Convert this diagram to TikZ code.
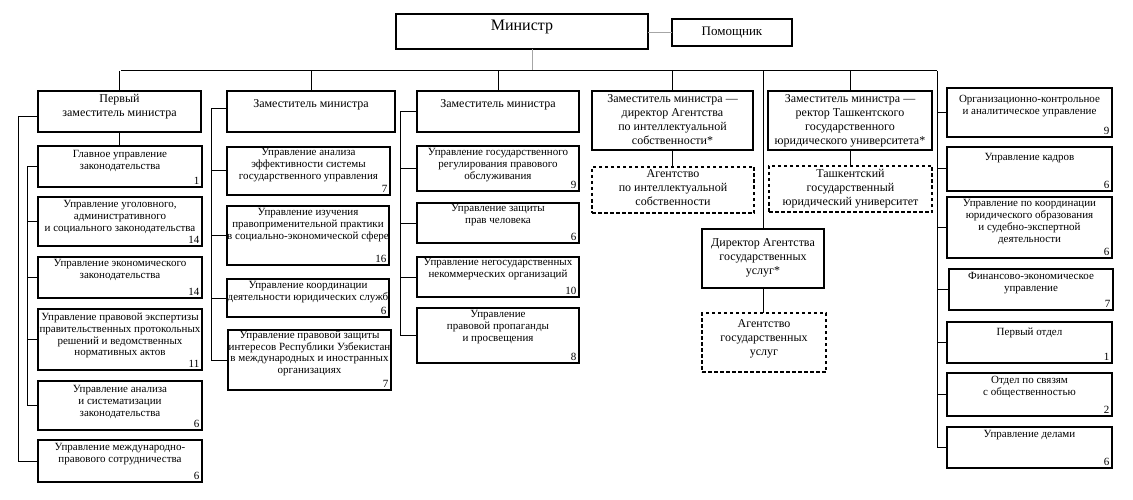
\documentclass[tikz,border=0pt]{standalone}
\usepackage{fontspec}
\setmainfont{Liberation Serif}
\begin{document}
\tikzset{
 bx/.style={draw, line width=1.2pt, inner sep=0pt, outer sep=0pt, anchor=north west},
 dbx/.style={bx, dash pattern=on 3.5pt off 2.5pt},
 ln/.style={line width=1pt},
 st/.style={align=center, inner sep=0pt, anchor=north, font=\fontsize{11}{11.8}\selectfont},
 ht/.style={align=center, inner sep=0pt, anchor=north, font=\fontsize{12}{14}\selectfont},
 nm/.style={inner sep=2.5pt, anchor=south east, font=\fontsize{11}{12}\selectfont},
}
\newcommand\ubox[8]{%
 \node[bx, minimum width={#4-#2}, minimum height={#5-#3}] (#1) at (#2,#3) {};
 \node[st] (#1-t) at ([yshift=-#6pt]#1.north) {#7};
 \node[nm] (#1-n) at (#1.south east) {#8};}
\newcommand\headbox[8]{%
 \node[#1, minimum width={#5-#3}, minimum height={#6-#4}] (#2) at (#3,#4) {};
 \node[ht] (#2-t) at ([yshift=-#7pt]#2.north) {#8};}
\begin{tikzpicture}[x=1pt,y=-1pt]
\useasboundingbox (0,0) rectangle (1133,500);
% top
\node[bx, minimum width=252, minimum height=35] (min) at (396,14) {};
\node[font=\fontsize{16}{18}\selectfont, anchor=north, inner sep=0pt] (min-t) at ([yshift=-6pt]min.north) {Министр};
\node[bx, minimum width=120, minimum height=27] (pom) at (672,19) {};
\node[font=\fontsize{13}{15}\selectfont, inner sep=0pt] (pom-t) at (pom.center) {Помощник};
% column 1
\headbox{bx}{pervyj}{38}{91}{201}{132}{2.9}{Первый\\заместитель министра}
\ubox{glav}{38}{146}{202}{187}{4.5}{Главное управление\\законодательства}{1}
\ubox{ugol}{38}{197}{202}{246}{3.2}{Управление уголовного,\\административного\\и социального законодательства}{14}
\ubox{ekon}{38}{257}{202}{298}{2.5}{Управление экономического\\законодательства}{14}
\ubox{eksp}{38}{309}{202}{370}{3.8}{Управление правовой экспертизы\\правительственных протокольных\\решений и ведомственных\\нормативных актов}{11}
\ubox{anal}{38}{381}{202}{430}{4}{Управление анализа\\и систематизации\\законодательства}{6}
\ubox{mezh}{38}{440}{202}{482}{3.2}{Управление международно-\\правового сотрудничества}{6}
% column 2
\headbox{bx}{zam2}{227}{91}{395}{132}{7.9}{Заместитель министра}
\ubox{eff}{227}{147}{390}{195}{1.5}{Управление анализа\\эффективности системы\\государственного управления}{7}
\ubox{izuch}{227}{206}{389}{265}{2.2}{Управление изучения\\правоприменительной практики\\в социально-экономической сфере}{16}
\ubox{koord}{227}{279}{389}{317}{2.2}{Управление координации\\деятельности юридических служб}{6}
\ubox{zasch}{228}{330}{391}{390}{0.6}{Управление правовой защиты\\интересов Республики Узбекистан\\в международных и иностранных\\организациях}{7}
% column 3
\headbox{bx}{zam3}{417}{91}{579}{132}{7.9}{Заместитель министра}
\ubox{gosreg}{417}{146}{579}{191}{2.2}{Управление государственного\\регулирования правового\\обслуживания}{9}
\ubox{prav}{417}{203}{579}{243}{1.5}{Управление защиты\\прав человека}{6}
\ubox{negos}{417}{257}{579}{297}{1.5}{Управление негосударственных\\некоммерческих организаций}{10}
\ubox{prop}{417}{308}{579}{363}{2.2}{Управление\\правовой пропаганды\\и просвещения}{8}
% column 4
\headbox{bx}{dir}{592}{91}{753}{150}{2.9}{Заместитель министра —\\директор Агентства\\по интеллектуальной\\собственности*}
\headbox{dbx}{agint}{592}{167}{754}{213}{1.9}{Агентство\\по интеллектуальной\\собственности}
\headbox{bx}{dirgos}{702}{229}{824}{288}{8.9}{Директор Агентства\\государственных\\услуг*}
\headbox{dbx}{aggos}{702}{313}{826}{372}{5.9}{Агентство\\государственных\\услуг}
% column 5
\headbox{bx}{rekt}{768}{91}{932}{150}{2.9}{Заместитель министра —\\ректор Ташкентского\\государственного\\юридического университета*}
\headbox{dbx}{tgu}{769}{166}{932}{212}{2.9}{Ташкентский\\государственный\\юридический университет}
% right column
\ubox{org}{947}{88}{1112}{137}{7}{Организационно-контрольное\\и аналитическое управление}{9}
\ubox{kadr}{947}{147}{1112}{191}{6.2}{Управление кадров}{6}
\ubox{obr}{947}{197}{1112}{258}{2.2}{Управление по координации\\юридического образования\\и судебно-экспертной\\деятельности}{6}
\ubox{fin}{949}{269}{1113}{310}{3.2}{Финансово-экономическое\\управление}{7}
\ubox{otd1}{947}{322}{1112}{363}{6.2}{Первый отдел}{1}
\ubox{obsh}{947}{373}{1112}{416}{3.2}{Отдел по связям\\с общественностью}{2}
\ubox{del}{947}{427}{1112}{468}{3.2}{Управление делами}{6}
% connectors
\coordinate (busL) at (121,71);
\coordinate (busR) at (937,71);
\coordinate (c1o) at (18,0);
\coordinate (c1i) at (27,0);
\coordinate (c2) at (211,0);
\coordinate (c3) at (400,0);
\draw[ln, gray!70] (pom.west -| min.east) -- (pom.west);
\draw[ln, gray!70] ([xshift=10pt]min.south) -- ([xshift=10pt]min.south |- busL);
\draw[ln] (busL) -- (busR);
\foreach \n in {pervyj,zam2,zam3,dir,dirgos,rekt}
  \draw[ln] (\n.north |- busL) -- (\n.north);
\draw[ln] (pervyj.south) -- (pervyj.south |- glav.north);
\draw[ln] ([yshift=-5.5pt]pervyj.west) -| (c1o |- mezh.west) -- (mezh.west);
\draw[ln] (glav.west) -| (c1i |- anal.west) -- (anal.west);
\foreach \n in {ugol,ekon,eksp}
  \draw[ln] (\n.west -| c1i) -- (\n.west);
\draw[ln] ([yshift=2.5pt]zam2.west) -| (c2 |- zasch.west) -- (zasch.west);
\foreach \n in {eff,izuch,koord}
  \draw[ln] (\n.west -| c2) -- (\n.west);
\draw[ln] (zam3.west) -| (c3 |- prop.west) -- (prop.west);
\foreach \n in {gosreg,prav,negos}
  \draw[ln] (\n.west -| c3) -- (\n.west);
\draw[ln] (dir.south) -- (dir.south |- agint.north);
\draw[ln] (dirgos.south) -- (dirgos.south |- aggos.north);
\draw[ln] (rekt.south) -- (rekt.south |- tgu.north);
\draw[ln] (busR) -- (busR |- del.west) -- (del.west);
\foreach \n in {org,kadr,obr,fin,otd1,obsh}
  \draw[ln] (\n.west -| busR) -- (\n.west);
\end{tikzpicture}
\end{document}
